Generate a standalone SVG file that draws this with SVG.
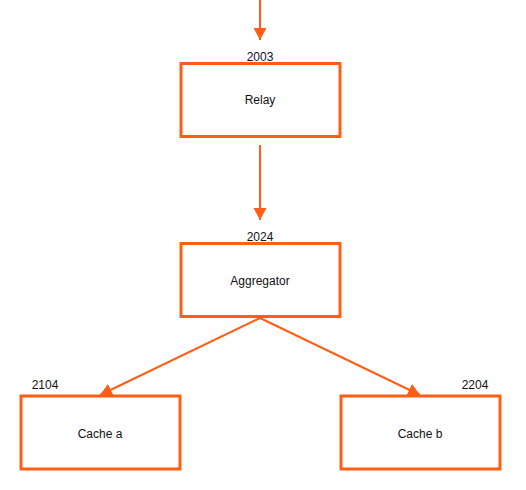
<svg xmlns="http://www.w3.org/2000/svg" width="526" height="490" viewBox="0 0 526 490">
  <style>
    .box { fill: #ffffff; stroke: #ff5e14; stroke-width: 3; }
    .edge { fill: none; stroke: #ff5e14; stroke-width: 2; }
    .lbl { font-family: "Liberation Sans", Arial, sans-serif; font-size: 12px; fill: #111111; text-anchor: middle; }
  </style>
  <defs>
    <marker id="arrow" markerUnits="userSpaceOnUse" markerWidth="13" markerHeight="13" refX="12" refY="6.5" orient="auto" viewBox="0 0 13 13">
      <path d="M0,0 L12,6.5 L0,13 z" fill="#ff5e14"/>
    </marker>
  </defs>
  <rect width="526" height="490" fill="#ffffff"/>
  <g id="connectors">
    <line class="edge" x1="260" y1="0" x2="260" y2="40" marker-end="url(#arrow)"/>
    <line class="edge" x1="260" y1="145" x2="260" y2="220" marker-end="url(#arrow)"/>
    <line class="edge" x1="260" y1="318" x2="100" y2="395" marker-end="url(#arrow)"/>
    <line class="edge" x1="260" y1="318" x2="420" y2="395" marker-end="url(#arrow)"/>
  </g>
  <g id="relay">
    <rect class="box" x="181" y="63.5" width="159" height="73"/>
    <text class="lbl" x="260" y="104">Relay</text>
    <text class="lbl" x="260" y="61">2003</text>
  </g>
  <g id="aggregator">
    <rect class="box" x="181" y="243.5" width="159" height="73"/>
    <text class="lbl" x="260" y="285">Aggregator</text>
    <text class="lbl" x="260" y="241">2024</text>
  </g>
  <g id="cache-a">
    <rect class="box" x="21" y="396" width="159" height="73"/>
    <text class="lbl" x="100" y="438">Cache a</text>
    <text class="lbl" x="45" y="389">2104</text>
  </g>
  <g id="cache-b">
    <rect class="box" x="341" y="396" width="159" height="73"/>
    <text class="lbl" x="420" y="438">Cache b</text>
    <text class="lbl" x="475" y="389">2204</text>
  </g>
</svg>
